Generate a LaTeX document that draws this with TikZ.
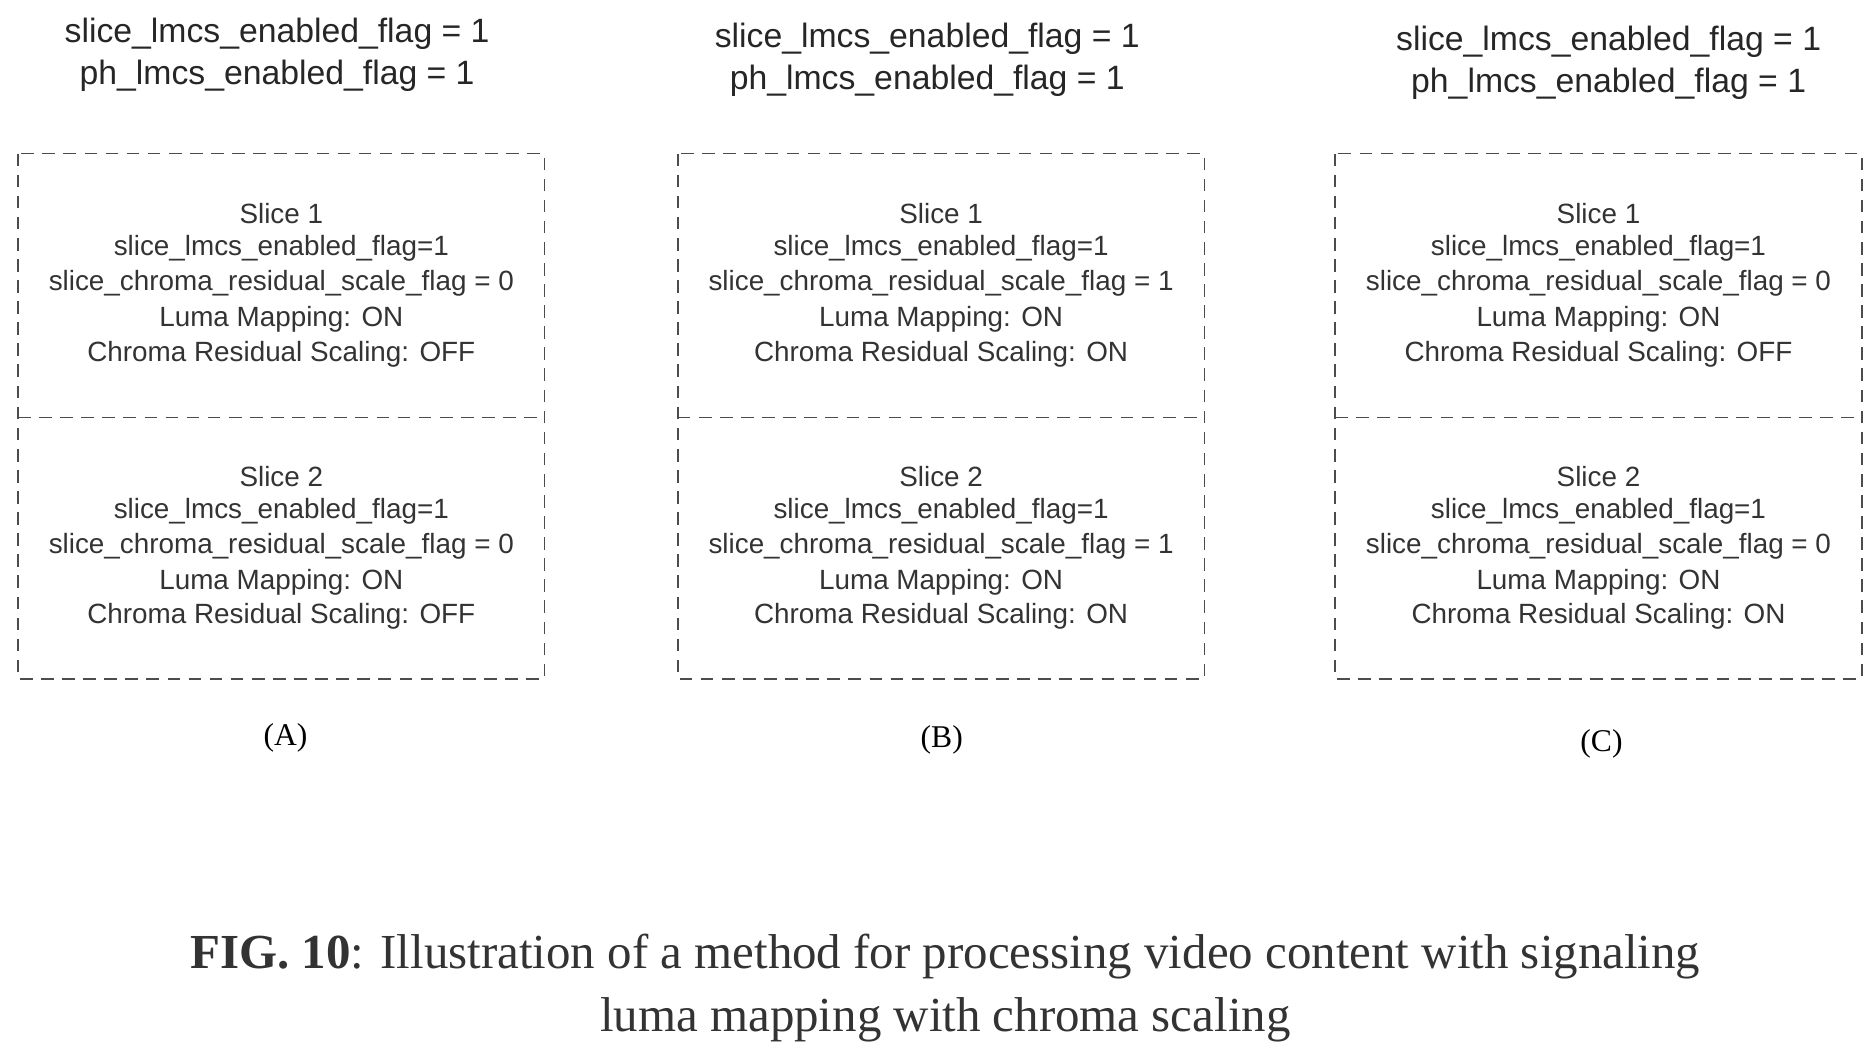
\documentclass[tikz,border=0pt]{standalone}
\usepackage{fontspec}
\setmainfont{Liberation Serif}
\setsansfont{Liberation Sans}
\begin{document}
\begin{tikzpicture}[x=0.01cm,y=-0.01cm,
  box/.style={draw=black!70,densely dashed,line width=0.4pt},
  t/.style={font=\sffamily\fontsize{6.6}{8}\selectfont,text=black!80,inner sep=0},
  h/.style={font=\sffamily\fontsize{8}{9.6}\selectfont,text=black!85,inner sep=0},
  lab/.style={font=\rmfamily\fontsize{7.5}{9}\selectfont,inner sep=0},
  captext/.style={font=\rmfamily\fontsize{11.6}{14}\selectfont,inner sep=0,text=black!80}]
\useasboundingbox (0,0) rectangle (1563,885);
\foreach \n/\x/\hx/\hy/\lx/\ly/\cA/\cB/\crsA/\crsB in
 {A/15/231/28/238/615/0/0/OFF/OFF, B/565/773/32/785/617/1/1/ON/ON, C/1113/1341/35/1335/620/0/0/OFF/ON}{
  \draw[box] (\x,128) rectangle +(439,438);
  \draw[box] (\x,348) -- +(439,0);
  \node[h] (h1\n) at (\hx,\hy) {slice\_lmcs\_enabled\_flag = 1};
  \node[h] (h2\n) at (\hx,\hy+35) {ph\_lmcs\_enabled\_flag = 1};
  \pgfmathsetmacro\cx{\x+219.5}
  \node[t] (s1a\n) at (\cx,178) {Slice 1};
  \node[t] (s1b\n) at (\cx,207) {slice\_lmcs\_enabled\_flag=1};
  \node[t] (s1c\n) at (\cx,236) {slice\_chroma\_residual\_scale\_flag = \cA};
  \node[t] (s1d\n) at (\cx,266) {Luma Mapping: ON};
  \node[t] (s1e\n) at (\cx,295) {Chroma Residual Scaling: \crsA};
  \node[t] (s2a\n) at (\cx,397) {Slice 2};
  \node[t] (s2b\n) at (\cx,426) {slice\_lmcs\_enabled\_flag=1};
  \node[t] (s2c\n) at (\cx,455) {slice\_chroma\_residual\_scale\_flag = \cB};
  \node[t] (s2d\n) at (\cx,485) {Luma Mapping: ON};
  \node[t] (s2e\n) at (\cx,514) {Chroma Residual Scaling: \crsB};
  \node[lab] (l\n) at (\lx,\ly) {(\n)};
}
\node[captext] (cap1) at (788,797) {\textbf{FIG. 10}: Illustration of a method for processing video content with signaling};
\node[captext] (cap2) at (788,850) {luma mapping with chroma scaling};
\end{tikzpicture}
\end{document}
